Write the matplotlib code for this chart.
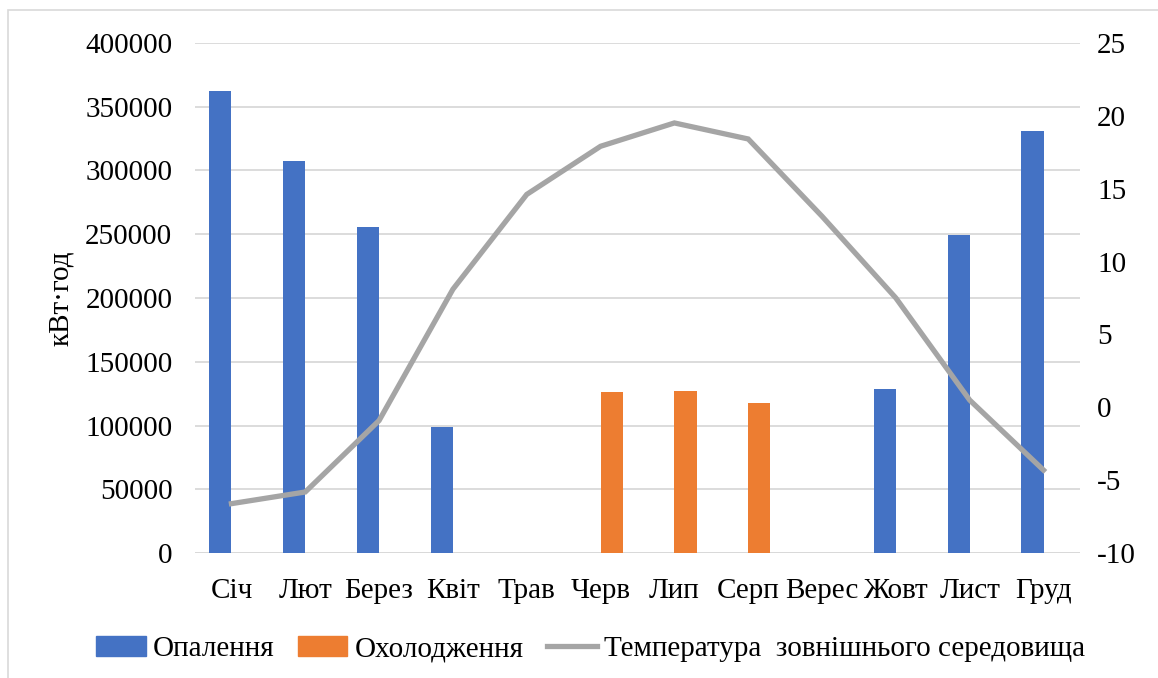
import matplotlib.pyplot as plt
from matplotlib.patches import Rectangle
from matplotlib.lines import Line2D
import numpy as np

plt.rcParams['font.family'] = ['Liberation Serif', 'DejaVu Serif']
plt.rcParams['axes.unicode_minus'] = False

months = ['Січ', 'Лют', 'Берез', 'Квіт', 'Трав', 'Черв', 'Лип', 'Серп',
          'Верес', 'Жовт', 'Лист', 'Груд']
heating = [362000, 307000, 256000, 99000, 0, 0, 0, 0, 0, 129000, 249000, 331000]
cooling = [0, 0, 0, 0, 0, 126000, 127000, 118000, 0, 0, 0, 0]
temperature = [-6.6, -5.8, -0.9, 8.1, 14.6, 17.9, 19.5, 18.4, 13.1, 7.5, 0.5, -4.3]

blue = '#4472C4'
orange = '#ED7D31'
gray = '#A5A5A5'
grid_col = '#D9D9D9'
fs = 21

fig = plt.figure(figsize=(11.58, 6.78), dpi=100)
ax = fig.add_axes([0.168, 0.184, 0.765, 0.753])

x = np.arange(len(months))
w = 0.30
ax.bar(x - w / 2, heating, w, color=blue, zorder=2)
ax.bar(x + w / 2, cooling, w, color=orange, zorder=2)

ax.set_xlim(-0.5, len(months) - 0.5)
ax.set_ylim(0, 400000)
ax.set_yticks(range(0, 400001, 50000))
ax.yaxis.grid(True, color=grid_col, linewidth=1.3, zorder=0)
ax.set_axisbelow(True)
for s in ax.spines.values():
    s.set_visible(False)
ax.axhline(0, color=grid_col, linewidth=1.3, zorder=1)
ax.tick_params(axis='both', length=0, labelsize=fs)
ax.tick_params(axis='y', pad=16)
ax.tick_params(axis='x', pad=18)
ax.set_xticks(x)
ax.set_xticklabels(months)
ax.set_ylabel('кВт·год', fontsize=fs, labelpad=8)

ax2 = ax.twinx()
ax2.plot(x, temperature, color=gray, linewidth=3.8, zorder=3,
         solid_joinstyle='miter')
ax2.set_ylim(-10, 25)
ax2.set_yticks(range(-10, 26, 5))
for s in ax2.spines.values():
    s.set_visible(False)
ax2.tick_params(axis='y', length=0, labelsize=fs, pad=12)

handles = [Rectangle((0, 0), 1, 1, color=blue),
           Rectangle((0, 0), 1, 1, color=orange),
           Line2D([0], [0], color=gray, linewidth=3.8)]
labels = ['Опалення', 'Охолодження', 'Температура  зовнішнього середовища']
fig.legend(handles, labels, loc='center', bbox_to_anchor=(0.51, 0.043),
           ncol=3, frameon=False, fontsize=fs, handlelength=1.7,
           handletextpad=0.25, columnspacing=0.8)

# chart border
fig.patches.append(Rectangle((8 / 1158, -0.1), 1.2, 1 - 10 / 678 + 0.1,
                             transform=fig.transFigure, fill=False,
                             edgecolor=grid_col, linewidth=1.2))

fig.savefig('out.png', dpi=100)
